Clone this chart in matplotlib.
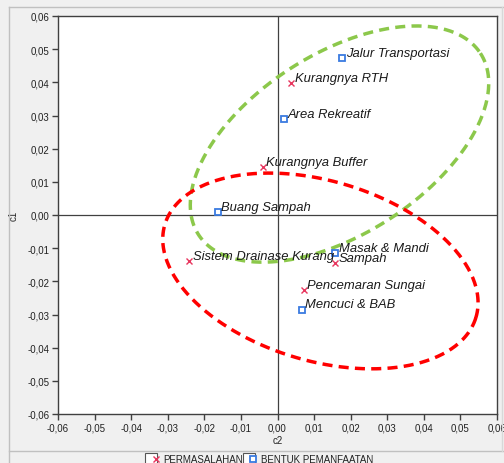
import numpy as np
import matplotlib
matplotlib.use("Agg")
import matplotlib.pyplot as plt
from matplotlib.lines import Line2D
from matplotlib.legend_handler import HandlerTuple

plt.rcParams['font.family'] = ['Liberation Sans', 'DejaVu Sans']

# Permasalahan (red x markers)
perm_labels = ["Kurangnya RTH", "Kurangnya Buffer", "Sistem Drainase Kurang", "Sampah", "Pencemaran Sungai"]
perm_c2 = [0.0038, -0.0041, -0.0241, 0.0158, 0.0072]
perm_c1 = [0.0397, 0.0144, -0.0138, -0.0145, -0.0225]

# Bentuk pemanfaatan (blue squares)
bent_labels = ["Jalur Transportasi", "Area Rekreatif", "Buang Sampah", "Masak & Mandi", "Mencuci & BAB"]
bent_c2 = [0.0177, 0.0018, -0.0164, 0.0158, 0.0067]
bent_c1 = [0.0472, 0.0289, 0.0010, -0.0115, -0.0285]

ticks = [-0.06, -0.05, -0.04, -0.03, -0.02, -0.01, 0.0, 0.01, 0.02, 0.03, 0.04, 0.05, 0.06]

# grouping ellipses: center, major-axis vector, minor-axis vector (data units)
green_center = (0.01695, 0.02139)
green_u = (0.0385, 0.0274)
green_v = (0.01348, -0.02274)
red_center = (0.01173, -0.01687)
red_u = (0.0425, -0.01407)
red_v = (-0.00714, -0.02594)

fig = plt.figure(figsize=(5.04, 4.64), dpi=100)
fig.patch.set_facecolor('#f0f0f0')
ax = fig.add_axes([58/504, 1-415/464, (497-58)/504, (415-17)/464])
ax.set_facecolor('white')

ax.set_xlim(-0.06, 0.06)
ax.set_ylim(-0.06, 0.06)
ax.axhline(0, color='#404040', lw=0.9, zorder=1)
ax.axvline(0, color='#404040', lw=0.9, zorder=1)

def ellipse(center, u, v, color):
    t = np.linspace(0, 2*np.pi, 400)
    x = center[0] + np.cos(t)*u[0] + np.sin(t)*v[0]
    y = center[1] + np.cos(t)*u[1] + np.sin(t)*v[1]
    ax.plot(x, y, color=color, lw=2.5, dashes=(2.9, 1.8), zorder=2, dash_capstyle='butt')

ellipse(green_center, green_u, green_v, '#8cc84b')
ellipse(red_center, red_u, red_v, '#ff0000')

ax.plot(perm_c2, perm_c1, ls='none', marker='x', color='#e8365e', ms=4, mew=1.0, zorder=4)
ax.plot(bent_c2, bent_c1, ls='none', marker='s', mfc='white', mec='#3a7be0', ms=4.5, mew=1.3, zorder=4)

for lab, x, y in list(zip(perm_labels, perm_c2, perm_c1)) + list(zip(bent_labels, bent_c2, bent_c1)):
    ax.annotate(lab, (x, y), xytext=(2.5, 1.5), textcoords='offset points',
                fontsize=9.4, style='italic', color='#1a1a1a', va='baseline', ha='left', zorder=5)

def fmt(v):
    s = f"{v:.2f}".replace('.', ',')
    if s == "-0,00":
        s = "0,00"
    return s

ax.set_xticks(ticks)
ax.set_yticks(ticks)
ax.set_xticklabels([fmt(t) for t in ticks])
ax.set_yticklabels([fmt(t) for t in ticks])
ax.tick_params(direction='out', length=4, width=1, colors='#404040', labelsize=7, labelcolor='#222222', pad=2)
for s in ax.spines.values():
    s.set_color('#404040')
    s.set_linewidth(1.0)

ax.set_xlabel('c2', fontsize=7, color='#222222', labelpad=2)
ax.set_ylabel('c1', fontsize=7, color='#222222')
ax.yaxis.set_label_coords(-(58-19)/439, 0.5)

# panel borders
for (x0, y0, x1, y1, c) in [(9, 8, 504, 8, '#c0c0c0'), (9, 8, 9, 464, '#c0c0c0'),
                             (9, 452, 504, 452, '#c0c0c0'), (502, 8, 502, 452, '#d8d8d8')]:
    fig.add_artist(Line2D([x0/504, x1/504], [1-y0/464, 1-y1/464], transform=fig.transFigure, color=c, lw=1))

box = dict(ls='none', marker='s', ms=9, mfc='white', mec='#555555', mew=0.8)
h1 = (Line2D([], [], **box), Line2D([], [], ls='none', marker='x', color='#e8365e', ms=4, mew=1.0))
h2 = (Line2D([], [], **box), Line2D([], [], ls='none', marker='s', mfc='white', mec='#3a7be0', ms=4.5, mew=1.3))
fig.legend([h1, h2], ['PERMASALAHAN', 'BENTUK PEMANFAATAN'], handler_map={tuple: HandlerTuple(ndivide=None, pad=0)},
           loc='center', bbox_to_anchor=(261/504, 1-460/464), ncol=2, frameon=False, fontsize=7,
           handlelength=1.0, handletextpad=0.5, columnspacing=0.3, borderpad=0, labelcolor='#222222')

fig.savefig('out.png', dpi=100, facecolor=fig.get_facecolor())
